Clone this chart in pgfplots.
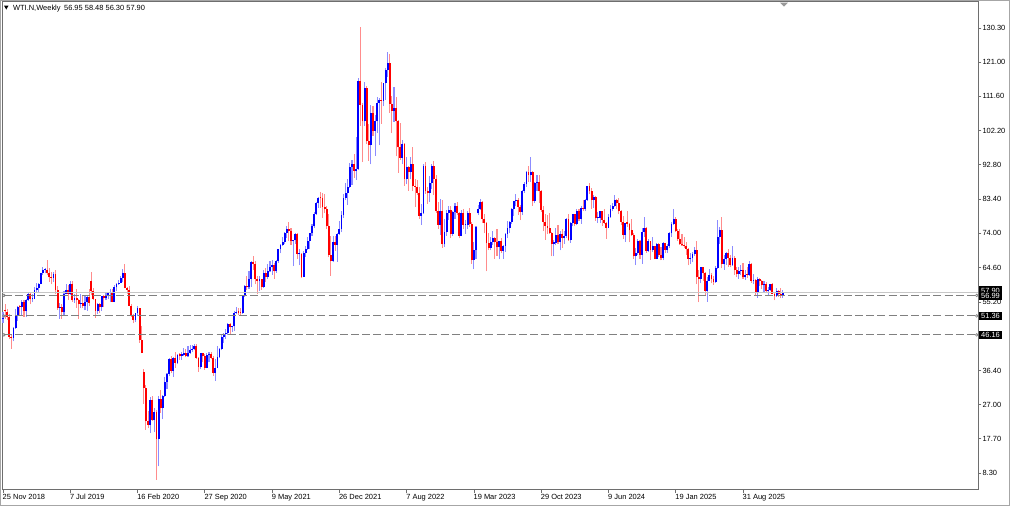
\documentclass[border=0pt]{standalone}
\usepackage{pgfplots}
\pgfplotsset{compat=1.18}
\usepackage{pgfplotstable}
\usepackage{fontspec}
\setmainfont{Liberation Sans}
\newcommand\lbl{\fontsize{5.6}{6.7}\selectfont}
\definecolor{upc}{RGB}{0,0,255}
\definecolor{dnc}{RGB}{255,0,0}
\definecolor{upw}{RGB}{140,140,255}
\definecolor{dnw}{RGB}{255,140,140}
\definecolor{frame}{RGB}{110,110,110}

\pgfplotstableread{
x O H L C
0 50.4 52.4 49.4 50.9
1 53.0 54.5 50.6 52.6
2 52.5 53.3 50.3 51.2
3 51.0 51.9 45.0 45.6
4 45.5 46.4 42.4 45.3
5 45.3 48.3 44.4 48.0
6 48.0 53.3 47.8 51.6
7 51.5 54.0 50.1 53.8
8 53.9 54.3 51.4 53.7
9 53.7 55.7 51.3 55.3
10 55.3 55.8 51.2 52.7
11 52.7 56.0 51.2 55.6
12 55.6 57.8 55.4 57.3
13 57.3 57.9 54.5 56.0
14 56.0 57.5 55.1 56.1
15 56.1 59.2 55.9 58.5
16 58.5 60.4 58.0 59.0
17 59.0 60.3 58.0 60.1
18 60.1 63.2 60.0 63.1
19 63.1 64.8 62.5 63.9
20 63.9 64.6 63.0 64.0
21 64.0 66.6 62.5 63.0
22 63.0 64.6 60.7 61.9
23 61.9 63.3 60.0 61.7
24 61.7 63.5 60.6 62.8
25 62.8 63.9 57.3 58.6
26 58.6 59.5 53.0 53.5
27 53.5 54.9 50.6 53.9
28 53.9 54.5 50.6 52.5
29 52.5 58.1 51.6 57.4
30 57.4 60.0 57.3 58.5
31 58.5 59.9 55.6 57.5
32 57.5 61.0 57.2 60.2
33 60.2 60.9 55.2 55.6
34 55.6 57.4 55.0 56.2
35 56.2 58.8 53.6 55.7
36 55.7 56.0 50.5 54.5
37 54.5 57.5 53.6 54.9
38 54.9 56.9 53.5 54.2
39 54.2 56.9 52.9 55.1
40 55.1 57.0 52.8 56.5
41 56.5 58.8 54.1 54.9
42 61.0 63.4 57.0 58.1
43 58.1 59.0 55.6 56.0
44 56.0 56.1 50.9 52.8
45 52.8 54.9 51.9 54.7
46 54.7 54.9 52.3 53.8
47 53.8 56.9 52.7 56.7
48 56.7 57.0 53.7 56.2
49 56.2 57.9 55.6 57.2
50 57.2 58.0 56.0 57.7
51 57.7 58.7 55.3 57.8
52 57.8 58.8 55.1 55.2
53 55.2 59.9 55.1 59.2
54 59.2 60.5 58.1 60.1
55 60.1 61.3 59.9 60.4
56 60.4 62.3 60.3 61.7
57 61.7 64.1 60.6 63.1
58 63.1 65.7 58.9 59.0
59 59.0 59.4 57.4 58.5
60 58.5 59.7 54.0 54.2
61 54.2 54.6 51.2 51.6
62 51.6 52.0 49.3 50.3
63 50.3 52.2 49.6 52.1
64 52.1 54.2 51.4 53.4
65 53.4 53.5 44.0 44.8
66 44.8 48.7 41.1 41.3
67 36.0 36.9 27.3 31.7
68 31.7 32.5 20.1 22.6
69 22.6 25.2 20.5 21.5
70 21.5 29.1 19.3 28.3
71 28.3 29.3 22.6 22.8
72 22.8 26.0 19.5 25.0
73 25.0 25.5 6.5 17.5
74 17.5 29.5 10.1 28.5
75 28.5 31.0 24.8 26.0
76 26.0 29.7 23.0 29.4
77 29.4 34.7 29.0 33.3
78 33.3 35.6 31.3 35.5
79 35.5 39.7 34.8 39.6
80 39.6 40.4 35.6 36.3
81 36.3 40.0 34.7 39.8
82 39.8 41.6 37.1 38.5
83 38.5 40.9 38.1 40.6
84 40.6 41.1 39.4 40.5
85 40.5 41.6 39.3 40.6
86 40.6 42.5 40.3 41.3
87 41.3 42.2 40.0 40.3
88 40.3 43.0 40.1 41.2
89 41.2 43.3 40.9 42.0
90 42.0 43.4 41.5 42.3
91 42.3 43.8 41.9 43.0
92 43.0 43.7 39.6 39.8
93 39.8 40.0 36.1 37.3
94 37.3 41.3 36.8 41.1
95 41.1 41.3 38.6 40.3
96 40.3 40.9 36.6 37.1
97 37.1 41.2 37.0 40.6
98 40.6 41.4 38.6 40.9
99 40.9 41.6 39.5 39.9
100 39.9 40.5 34.9 35.8
101 35.8 39.6 33.6 37.1
102 37.1 43.1 37.0 40.1
103 40.1 42.6 39.8 42.4
104 42.4 46.3 41.9 45.5
105 45.5 46.7 43.9 46.3
106 46.3 47.7 45.1 46.6
107 46.6 49.3 46.2 49.1
108 49.1 49.4 46.2 48.2
109 48.2 48.7 47.0 48.5
110 48.5 52.8 47.2 52.2
111 52.2 53.9 51.8 52.4
112 52.4 53.6 51.5 52.3
113 52.3 53.6 51.4 52.2
114 52.2 57.0 51.9 56.9
115 56.9 59.8 56.6 59.5
116 59.5 62.3 58.6 59.2
117 59.2 63.8 58.7 61.5
118 61.5 66.4 59.4 66.1
119 66.1 67.9 63.9 65.6
120 65.6 66.4 60.0 61.4
121 61.4 62.3 57.3 60.9
122 60.9 62.3 58.1 61.5
123 61.5 61.6 58.5 59.3
124 59.3 64.0 59.0 63.1
125 63.1 64.4 60.8 62.1
126 62.1 65.5 61.5 63.6
127 63.6 66.5 63.5 64.9
128 64.9 66.6 62.6 65.4
129 65.4 66.0 61.6 63.6
130 63.6 66.8 63.2 66.3
131 66.3 69.8 66.0 69.6
132 69.6 71.0 68.5 70.9
133 70.9 72.9 70.6 71.6
134 71.6 74.3 71.2 74.1
135 74.1 76.0 72.7 75.2
136 75.2 77.0 71.8 74.6
137 74.6 75.5 70.8 71.8
138 71.8 72.3 65.0 72.1
139 72.1 74.0 71.1 73.9
140 73.9 74.0 67.1 68.3
141 68.3 69.8 65.2 68.4
142 68.4 68.7 61.7 62.1
143 62.1 69.2 62.0 68.7
144 68.7 70.4 67.6 69.7
145 69.7 73.1 69.4 71.9
146 71.9 74.1 69.6 74.0
147 74.0 76.7 73.4 75.9
148 75.9 79.8 75.4 79.4
149 79.4 82.7 79.0 82.3
150 82.3 84.0 81.0 83.8
151 83.8 85.4 81.0 83.6
152 83.6 85.0 78.3 81.3
153 81.3 84.9 79.5 80.8
154 80.8 81.5 75.3 76.1
155 76.1 79.3 67.4 68.2
156 68.2 73.3 62.4 66.3
157 66.3 73.3 66.1 71.7
158 71.7 73.2 69.2 70.9
159 70.9 74.0 66.2 73.8
160 73.8 77.4 73.6 75.2
161 75.2 80.2 74.3 78.9
162 78.9 84.8 78.2 83.8
163 83.8 87.9 83.1 85.1
164 85.1 88.8 81.9 86.8
165 86.8 93.2 86.5 92.3
166 92.3 94.0 87.3 93.1
167 93.1 95.8 89.2 91.1
168 91.1 100.5 88.7 91.6
169 91.6 116.6 91.5 115.7
170 115.7 130.5 103.5 109.3
171 109.3 109.7 93.5 104.7
172 104.7 115.4 103.5 113.9
173 113.9 114.3 98.4 99.3
174 99.3 104.1 93.9 98.3
175 98.3 109.2 92.9 106.9
176 106.9 109.0 100.7 102.1
177 102.1 106.4 95.3 104.7
178 104.7 111.4 101.6 109.8
179 109.8 111.0 98.2 110.5
180 110.5 115.4 104.0 110.3
181 110.3 115.3 108.8 115.1
182 115.1 119.4 110.6 118.9
183 118.9 123.7 117.0 120.7
184 120.7 123.2 107.1 109.6
185 109.6 111.6 101.5 107.6
186 107.6 114.1 104.6 108.4
187 108.4 111.3 95.1 104.8
188 104.8 105.2 90.6 97.6
189 97.6 104.2 94.1 94.7
190 94.7 99.5 92.9 98.6
191 98.6 98.9 87.0 89.0
192 89.0 94.9 87.4 92.1
193 92.1 92.6 85.7 90.8
194 90.8 95.0 88.8 93.1
195 93.1 97.7 85.7 86.9
196 86.9 88.8 81.2 86.8
197 86.8 88.5 84.5 85.1
198 85.1 86.7 78.0 78.7
199 78.7 82.0 76.3 79.5
200 79.5 92.9 79.3 92.6
201 92.6 93.6 84.8 85.6
202 85.6 86.8 82.1 85.1
203 85.1 89.8 82.6 87.9
204 87.9 93.0 86.2 92.6
205 92.6 93.7 84.5 89.0
206 89.0 90.0 79.6 80.1
207 80.1 82.6 75.3 76.3
208 76.3 83.3 73.6 80.0
209 80.0 83.2 70.1 71.0
210 71.0 77.9 70.3 74.3
211 74.3 80.3 73.4 79.6
212 79.6 81.5 77.7 80.3
213 80.3 81.5 72.7 73.8
214 73.8 80.0 73.4 79.9
215 79.9 82.4 78.0 81.6
216 81.6 82.7 79.1 79.7
217 79.7 79.8 72.6 73.4
218 73.4 80.5 73.2 79.7
219 79.7 80.8 75.1 76.3
220 76.3 77.6 73.8 76.4
221 76.4 80.1 75.1 79.7
222 79.7 81.0 75.7 76.7
223 76.7 77.1 65.7 66.7
224 66.7 71.7 64.1 69.3
225 69.3 76.0 67.0 75.7
226 79.5 81.8 79.0 80.7
227 80.7 83.5 80.4 82.5
228 82.5 83.0 76.9 77.9
229 77.9 79.2 74.0 76.8
230 76.8 77.0 63.6 71.3
231 71.3 74.0 69.4 70.0
232 70.0 73.0 69.4 71.7
233 71.7 74.7 70.9 72.7
234 72.7 73.0 67.0 71.7
235 71.7 75.1 67.9 70.2
236 70.2 72.0 66.9 71.8
237 71.8 72.7 68.5 69.2
238 69.2 70.9 67.1 70.6
239 70.6 74.0 69.0 73.9
240 73.9 77.3 72.7 75.4
241 75.4 77.3 74.0 77.1
242 77.1 80.9 76.6 80.6
243 80.6 83.0 78.8 82.8
244 82.8 84.9 81.4 83.2
245 83.2 83.7 79.0 81.3
246 81.3 81.8 77.6 79.8
247 79.8 85.8 79.0 85.6
248 85.6 88.1 85.2 87.5
249 87.5 91.2 86.8 90.8
250 90.8 92.4 88.1 90.0
251 90.0 95.0 88.1 90.8
252 90.8 91.1 81.5 82.8
253 82.8 88.0 82.2 87.7
254 87.7 90.0 85.6 88.1
255 88.1 89.9 82.2 85.5
256 85.5 86.0 79.8 80.5
257 80.5 81.5 74.6 77.2
258 77.2 79.2 72.2 76.0
259 76.0 79.0 73.8 75.5
260 75.5 79.7 73.8 74.1
261 74.1 74.4 67.7 71.2
262 71.2 72.3 67.7 71.4
263 71.4 75.4 70.7 73.6
264 73.6 76.2 71.1 71.7
265 71.7 74.6 69.3 73.8
266 73.8 75.2 70.1 72.7
267 72.7 74.6 71.2 73.4
268 73.4 78.2 72.7 78.0
269 78.0 79.3 72.0 72.3
270 72.3 77.0 71.4 76.8
271 76.8 79.3 75.9 79.2
272 79.2 79.4 75.9 76.5
273 76.5 80.6 76.2 80.0
274 80.0 80.8 77.3 78.0
275 78.0 81.6 76.6 81.0
276 81.0 83.1 80.2 80.6
277 80.6 83.4 80.2 83.2
278 83.2 87.1 82.9 86.9
279 86.9 87.7 84.7 85.7
280 85.7 86.3 80.7 83.1
281 83.1 84.5 80.9 83.9
282 83.9 84.2 77.5 78.1
283 78.1 79.8 76.9 78.3
284 78.3 80.2 76.8 80.1
285 80.1 80.2 76.1 77.7
286 77.7 80.6 76.7 76.9
287 76.9 77.0 72.5 75.5
288 75.5 79.4 75.4 78.5
289 78.5 81.7 78.3 80.7
290 80.7 82.3 80.0 81.5
291 81.5 84.5 81.3 83.2
292 83.2 83.4 80.6 82.2
293 82.2 83.6 79.2 80.1
294 80.1 80.4 76.2 77.2
295 77.2 78.8 72.5 73.5
296 73.5 76.9 71.7 76.8
297 76.8 80.2 75.8 76.7
298 76.7 76.9 71.5 74.8
299 74.8 77.8 73.3 73.6
300 73.6 74.0 67.0 67.7
301 67.7 70.1 65.3 68.7
302 68.7 72.4 68.2 71.9
303 71.9 72.3 67.1 68.2
304 68.2 75.6 65.7 74.4
305 74.4 78.5 73.0 75.6
306 75.6 75.8 68.6 69.2
307 69.2 72.4 68.9 71.8
308 71.8 71.9 66.7 69.5
309 69.5 72.9 69.0 70.4
310 70.4 70.6 66.9 67.0
311 67.0 71.4 66.9 71.2
312 71.2 71.4 67.5 68.0
313 68.0 70.3 66.6 67.2
314 67.2 71.5 66.6 71.3
315 71.3 71.4 68.6 69.5
316 69.5 71.0 68.7 70.6
317 70.6 74.3 70.0 74.0
318 74.0 77.0 73.1 76.6
319 76.6 80.8 76.3 77.9
320 77.9 78.5 74.4 74.7
321 74.7 75.1 71.9 72.5
322 72.5 75.2 70.9 71.0
323 71.0 73.7 70.6 70.7
324 70.7 73.0 70.0 70.4
325 70.4 71.5 68.1 69.8
326 69.8 70.0 65.2 67.0
327 67.0 68.5 65.7 67.2
328 67.2 68.8 66.1 68.3
329 68.3 70.2 67.8 69.4
330 69.4 72.0 60.0 62.0
331 62.0 63.9 55.1 61.5
332 61.5 64.9 60.3 64.7
333 64.7 64.9 61.0 63.0
334 63.0 63.4 57.0 58.3
335 58.3 61.9 55.3 61.0
336 61.0 64.2 60.9 62.5
337 62.5 63.0 60.3 61.5
338 61.5 62.3 59.9 60.8
339 60.8 65.0 60.5 64.6
340 64.6 77.6 64.3 73.0
341 73.0 75.7 71.2 74.9
342 74.9 78.4 64.4 65.5
343 65.5 68.0 64.0 67.0
344 67.0 68.8 65.4 68.5
345 68.5 69.7 64.9 67.3
346 67.3 68.1 64.7 65.2
347 65.2 70.5 65.1 67.3
348 67.3 67.7 62.7 63.9
349 63.9 64.7 61.9 62.8
350 62.8 64.9 61.6 63.7
351 63.7 65.4 62.5 64.0
352 64.0 66.0 61.5 61.9
353 61.9 64.0 61.2 62.7
354 62.7 64.8 61.8 62.6
355 62.6 66.4 62.4 65.7
356 65.7 65.9 60.4 60.9
357 60.9 62.8 60.0 61.2
358 61.2 61.5 57.2 57.6
359 57.6 62.0 56.3 61.5
360 61.5 61.8 59.5 61.0
361 61.0 61.3 58.8 59.8
362 59.8 61.0 57.8 60.1
363 60.1 60.6 57.6 58.1
364 58.1 59.3 57.2 58.6
365 58.6 60.2 58.3 60.0
366 60.0 60.3 57.4 57.5
367 57.5 57.9 55.6 56.7
368 56.7 58.9 56.5 58.3
369 58.3 58.6 56.6 57.3
370 57.3 58.9 56.2 57.0
371 56.95 58.48 56.30 57.90
}\wti

\begin{document}
\begin{tikzpicture}
\path[use as bounding box] (0pt,0pt) rectangle (757.5pt,379.5pt);
\fill[white] (0pt,0pt) rectangle (757.5pt,379.5pt);
\begin{axis}[
  at={(1.5pt,12pt)}, anchor=south west,
  scale only axis, width=732pt, height=366pt,
  xmin=-0.48, xmax=463.8, ymin=3.64, ymax=137.43,
  axis line style={draw=frame, line width=0.75pt},
  tick style={draw=frame, line width=0.6pt},
  tick align=outside, major tick length=2.6pt,
  xtick pos=left, ytick pos=right, yticklabel pos=right,
  xtick={0,32,64,96,128,160,192,224,256,288,320,352},
  xticklabels={25 Nov 2018,7 Jul 2019,16 Feb 2020,27 Sep 2020,9 May 2021,26 Dec 2021,7 Aug 2022,19 Mar 2023,29 Oct 2023,9 Jun 2024,19 Jan 2025,31 Aug 2025},
  ytick={8.3,17.7,27,36.4,45.8,55.2,64.6,74,83.4,92.8,102.2,111.6,121,130.3},
  yticklabels={8.30,17.70,27.00,36.40,{},55.20,64.60,74.00,83.40,92.80,102.20,111.60,121.00,130.30},
  xticklabel style={anchor=north west, inner sep=0pt, xshift=-0.4pt, yshift=-0.6pt, font=\lbl},
  yticklabel style={anchor=west, inner sep=0pt, xshift=0.6pt, font=\lbl},
]
% wicks (low to high), up weeks then down weeks
\addplot[draw=upw, color=upw, line width=0.8pt, mark=none, forget plot, restrict y to domain=0:200,
  quiver={u=0, v=\thisrow{H}-\thisrow{L}, every arrow/.append style={-, draw=upw}}]
  table[x=x, y expr={\thisrow{C}>=\thisrow{O} ? \thisrow{L} : -100}] {\wti};
\addplot[draw=dnw, color=dnw, line width=0.8pt, mark=none, forget plot, restrict y to domain=0:200,
  quiver={u=0, v=\thisrow{H}-\thisrow{L}, every arrow/.append style={-, draw=dnw}}]
  table[x=x, y expr={\thisrow{C}<\thisrow{O} ? \thisrow{L} : -100}] {\wti};
% bodies (open to close)
\addplot[draw=upc, color=upc, line width=1.4pt, mark=none, forget plot, restrict y to domain=0:200,
  quiver={u=0, v={max(\thisrow{C}-\thisrow{O},0.3)}, every arrow/.append style={-, draw=upc}}]
  table[x=x, y expr={\thisrow{C}>=\thisrow{O} ? \thisrow{O} : -100}] {\wti};
\addplot[draw=dnc, color=dnc, line width=1.4pt, mark=none, forget plot, restrict y to domain=0:200,
  quiver={u=0, v={max(\thisrow{O}-\thisrow{C},0.3)}, every arrow/.append style={-, draw=dnc}}]
  table[x=x, y expr={\thisrow{C}<\thisrow{O} ? \thisrow{C} : -100}] {\wti};
% bid line and horizontal levels
\addplot[black!22, line width=0.6pt, forget plot] coordinates {(-0.48,57.90) (463.8,57.90)};
\addplot[black!50, line width=0.75pt, dash pattern=on 6pt off 2.4pt, mark=o, mark size=1pt,
  mark options={solid, fill=white, line width=0.5pt}, forget plot]
  coordinates {(0.4,56.99) (463.2,56.99)};
\addplot[black!50, line width=0.75pt, dash pattern=on 6pt off 2.4pt, mark=o, mark size=1pt,
  mark options={solid, fill=white, line width=0.5pt}, forget plot]
  coordinates {(0.4,51.36) (463.2,51.36)};
\addplot[black!50, line width=0.75pt, dash pattern=on 6pt off 2.4pt, mark=o, mark size=1pt,
  mark options={solid, fill=white, line width=0.5pt}, forget plot]
  coordinates {(0.4,46.16) (463.2,46.16)};
\coordinate (r5790) at (axis cs:463.8,57.90);
\coordinate (r5699) at (axis cs:463.8,56.99);
\coordinate (r5136) at (axis cs:463.8,51.36);
\coordinate (r4616) at (axis cs:463.8,46.16);
\coordinate (shift) at (axis cs:371.5,137.43);
\end{axis}
% price boxes
\tikzset{pbox/.style={anchor=west, fill=black, text=white, inner xsep=1.6pt, inner ysep=1.1pt, font=\lbl}}
\node[pbox] at ([xshift=0.6pt,yshift=1.2pt]r5790) {57.90};
\node[pbox] at ([xshift=0.6pt,yshift=-0.5pt]r5699) {56.99};
\node[pbox] at ([xshift=0.6pt]r5136) {51.36};
\node[pbox] at ([xshift=0.6pt]r4616) {46.16};
% shift marker
\fill[black!40] ([xshift=-3pt,yshift=-0.4pt]shift) -- ([xshift=3pt,yshift=-0.4pt]shift) -- ([yshift=-3.4pt]shift) -- cycle;
% title
\fill[black] (3pt,375.3pt) -- (6.4pt,375.3pt) -- (4.7pt,372.3pt) -- cycle;
\node[anchor=west, inner sep=0pt] at (9.6pt,373.3pt) {\lbl WTI.N,Weekly\hspace{2.6pt}56.95 58.48 56.30 57.90};
\draw[black!35, line width=0.5pt] (0.25pt,0.25pt) rectangle (757.25pt,379.25pt);
\end{tikzpicture}
\end{document}
